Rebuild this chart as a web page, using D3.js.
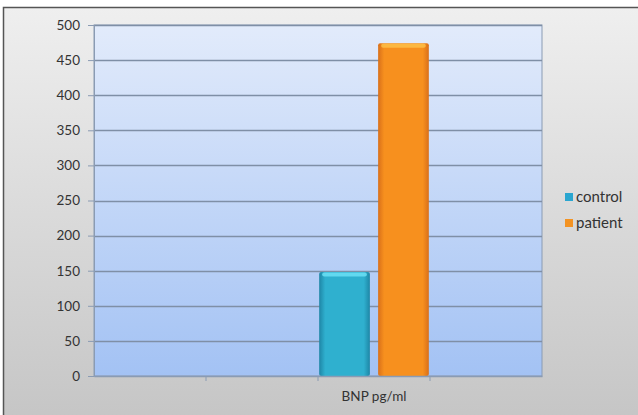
<!DOCTYPE html>
<html>
<head>
<meta charset="utf-8">
<script src="https://cdn.jsdelivr.net/npm/d3@7"></script>
<style>
  body { margin: 0; background: #fff; }
  text { font-family: Lato, "Open Sans", sans-serif; fill: #333; }
</style>
</head>
<body>
<div id="chart"></div>
<script>
// categories on the x axis (only the third one is labelled)
var categories = ['c1', 'c2', 'BNP pg/ml', 'c4'];
var categoryLabels = ['', '', 'BNP pg/ml', ''];
var series = ['control', 'patient'];
var controlValues = [null, null, 148, null];
var patientValues = [null, null, 474, null];
var yTicks = [0, 50, 100, 150, 200, 250, 300, 350, 400, 450, 500];

var width = 638, height = 415;
var plot = { left: 94, top: 25, right: 542, bottom: 376 };

var svg = d3.select('#chart').append('svg')
    .attr('width', width)
    .attr('height', height);

var defs = svg.append('defs');

var bg = defs.append('linearGradient').attr('id', 'bgGrad')
    .attr('x1', 0).attr('y1', 0).attr('x2', 0).attr('y2', 1);
bg.append('stop').attr('offset', '0%').attr('stop-color', '#efefef');
bg.append('stop').attr('offset', '100%').attr('stop-color', '#c4c4c4');

var pg = defs.append('linearGradient').attr('id', 'plotGrad')
    .attr('x1', 0).attr('y1', 0).attr('x2', 0).attr('y2', 1);
pg.append('stop').attr('offset', '0%').attr('stop-color', '#e2ebfb');
pg.append('stop').attr('offset', '100%').attr('stop-color', '#a3c2f4');

function barGrad(id, edge, mid) {
    var g = defs.append('linearGradient').attr('id', id)
        .attr('x1', 0).attr('y1', 0).attr('x2', 1).attr('y2', 0);
    g.append('stop').attr('offset', '0%').attr('stop-color', edge);
    g.append('stop').attr('offset', '12%').attr('stop-color', mid);
    g.append('stop').attr('offset', '88%').attr('stop-color', mid);
    g.append('stop').attr('offset', '100%').attr('stop-color', edge);
}
barGrad('controlGrad', '#1e86a6', '#2fb0cf');
barGrad('patientGrad', '#d9701a', '#f7901e');

var colors = { control: 'url(#controlGrad)', patient: 'url(#patientGrad)' };
var topColors = { control: '#6fe4f7', patient: '#fdc24a' };
var legendColors = { control: '#2aa6d0', patient: '#f39323' };

// chart area
svg.append('rect')
    .attr('x', 3.5).attr('y', 7.5)
    .attr('width', width + 10).attr('height', height + 10)
    .attr('fill', 'url(#bgGrad)')
    .attr('stroke', '#555')
    .attr('stroke-width', 1.5);

var x = d3.scaleBand()
    .domain(categories)
    .range([plot.left, plot.right])
    .padding(0);

var xInner = d3.scaleBand()
    .domain(series)
    .range([0, x.bandwidth()])
    .paddingInner(0.14)
    .paddingOuter(0.02);

var y = d3.scaleLinear()
    .domain([0, 500])
    .range([plot.bottom, plot.top]);

svg.append('rect')
    .attr('x', plot.left).attr('y', plot.top)
    .attr('width', plot.right - plot.left)
    .attr('height', plot.bottom - plot.top)
    .attr('fill', 'url(#plotGrad)')
    .attr('stroke', '#8a9bb3')
    .attr('stroke-width', 1);

// gridlines
svg.append('g').selectAll('line')
    .data(yTicks.slice(1))
    .enter().append('line')
    .attr('x1', plot.left).attr('x2', plot.right)
    .attr('y1', function (d) { return Math.round(y(d)) + 0.5; })
    .attr('y2', function (d) { return Math.round(y(d)) + 0.5; })
    .style('stroke', '#7f8fa6')
    .style('stroke-width', 1.3);

// y axis
var yAxis = d3.axisLeft(y).tickValues(yTicks).tickSize(6).tickPadding(8);
var yG = svg.append('g')
    .attr('transform', 'translate(' + plot.left + ',0)')
    .call(yAxis);
yG.select('.domain').attr('stroke', '#8a9bb3');
yG.selectAll('.tick line').attr('stroke', '#8a9bb3');
yG.selectAll('.tick text').style('font-size', '13.5px').attr('fill', '#333');

// bars
var rows = categories.map(function (c, i) {
    return { cat: c, control: controlValues[i], patient: patientValues[i] };
});

var groups = svg.append('g').selectAll('g')
    .data(rows)
    .enter().append('g')
    .attr('transform', function (d) { return 'translate(' + x(d.cat) + ',0)'; });

groups.selectAll('rect.bar')
    .data(function (d) {
        return series.filter(function (s) { return d[s] != null; })
            .map(function (s) { return { key: s, value: d[s] }; });
    })
    .enter().append('rect')
    .classed('bar', true)
    .attr('x', function (d) { return xInner(d.key); })
    .attr('y', function (d) { return y(d.value); })
    .attr('width', xInner.bandwidth())
    .attr('height', function (d) { return y(0) - y(d.value); })
    .attr('rx', 2)
    .style('fill', function (d) { return colors[d.key]; });

groups.selectAll('rect.cap')
    .data(function (d) {
        return series.filter(function (s) { return d[s] != null; })
            .map(function (s) { return { key: s, value: d[s] }; });
    })
    .enter().append('rect')
    .classed('cap', true)
    .attr('x', function (d) { return xInner(d.key) + 3; })
    .attr('y', function (d) { return y(d.value) + 0.5; })
    .attr('width', xInner.bandwidth() - 6)
    .attr('height', 4)
    .attr('rx', 2)
    .style('fill', function (d) { return topColors[d.key]; })
    .style('opacity', 0.8);

// x axis
var xAxis = d3.axisBottom(x).tickSize(0).tickFormat(function (d, i) { return categoryLabels[i]; });
var xG = svg.append('g')
    .attr('transform', 'translate(0,' + plot.bottom + ')')
    .call(xAxis);
xG.select('.domain').attr('stroke', '#8a9bb3').attr('stroke-width', 1.5);
xG.selectAll('.tick text').style('font-size', '13.5px').attr('dy', '1.6em').attr('fill', '#333');
svg.append('g').selectAll('line')
    .data(categories.slice(1))
    .enter().append('line')
    .attr('x1', function (d) { return x(d); })
    .attr('x2', function (d) { return x(d); })
    .attr('y1', plot.bottom)
    .attr('y2', plot.bottom + 5)
    .style('stroke', '#8a9bb3');

// legend
var legend = svg.append('g').attr('transform', 'translate(565,193)');
var li = legend.selectAll('g')
    .data(series)
    .enter().append('g')
    .attr('transform', function (d, i) { return 'translate(0,' + (i * 26) + ')'; });
li.append('rect')
    .attr('width', 8).attr('height', 8)
    .style('fill', function (d) { return legendColors[d]; });
li.append('text')
    .attr('x', 11).attr('y', 9)
    .style('font-size', '15px')
    .text(function (d) { return d; });
</script>
</body>
</html>
